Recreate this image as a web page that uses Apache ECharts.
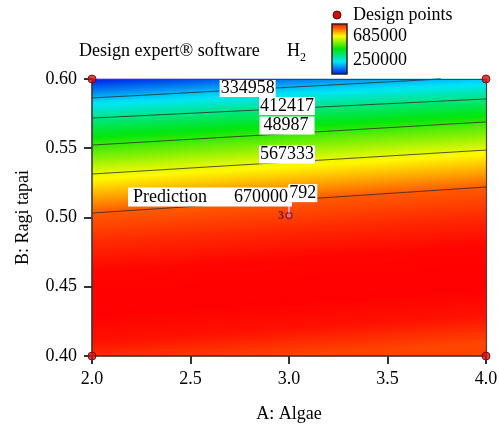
<!DOCTYPE html>
<html><head><meta charset="utf-8">
<script src="https://cdn.jsdelivr.net/npm/echarts@6/dist/echarts.min.js"></script>
<style>html,body{margin:0;padding:0;background:#fff}#c{width:499px;height:425px}</style>
</head><body><div id="c"></div>
<script>
// ---- data ----
const xTicks = [2.0, 2.5, 3.0, 3.5, 4.0];
const yTicks = [0.40, 0.45, 0.50, 0.55, 0.60];
const contourLevels = [334958, 412417, 489875, 567333, 645792];
const contourText = ['334958', '412417', '48987', '567333', '792'];   // as visible in the picture
const contourA = [[2.0, 3.77], [2.0, 4.0], [2.0, 4.0], [2.0, 4.0], [2.0, 4.0]];
const contourB = [[0.5863, 0.600], [0.5718, 0.5856], [0.5523, 0.5690], [0.5314, 0.5487], [0.5032, 0.5220]];
const labelA = [2.79, 2.99, 2.99, 2.99, 3.07];
const labelB = [0.5942, 0.5812, 0.5672, 0.5462, 0.5183];
const cornerValue = 255000;                       // response at A=2.0, B=0.60
const lowerB = [0.49, 0.47, 0.44, 0.42, 0.40];    // section at A=3 below the last contour
const lowerV = [668000, 683000, 685000, 678000, 655000];
const designA = [2.0, 4.0, 2.0, 4.0, 3.0];
const designB = [0.60, 0.60, 0.40, 0.40, 0.50];
const designReps = [1, 1, 1, 1, 3];
const predictionA = 3.0, predictionB = 0.50, predictionValue = 670000;
const scaleMin = 250000, scaleMax = 685000;

// ---- styling helpers ----
const FONT = '"Liberation Serif", "Times New Roman", serif';
const paletteT = [0, 0.25, 0.5, 0.75, 1];
const paletteRGB = [[0,20,230],[0,230,250],[0,230,10],[255,250,0],[255,0,0]];
function colorOf(v){
  let t = (v - scaleMin) / (scaleMax - scaleMin); t = Math.max(0, Math.min(1, t));
  let j = 0; while (j < paletteT.length - 2 && t > paletteT[j+1]) j++;
  const f = (t - paletteT[j]) / (paletteT[j+1] - paletteT[j]);
  const c = paletteRGB[j].map((x, m) => Math.round(x + f * (paletteRGB[j+1][m] - x)));
  return 'rgb(' + c.join(',') + ')';
}
const xMin = xTicks[0], xMax = xTicks[xTicks.length-1], yMin = yTicks[0], yMax = yTicks[yTicks.length-1];
const midA = (xMin + xMax) / 2;
const nL = contourLevels.length;
function linePts(k){ return contourA[k].map((a, m) => [a, contourB[k][m]]); }
function lineAt(k, a){ const A = contourA[k], B = contourB[k]; return B[0] + (a - A[0]) / (A[1] - A[0]) * (B[1] - B[0]); }
function unit(p, q){ const dx = q[0]-p[0], dy = q[1]-p[1], l = Math.hypot(dx, dy); return [dx/l, dy/l]; }
function dot(p, q, n){ return (q[0]-p[0]) * n[0] + (q[1]-p[1]) * n[1]; }
function makeGradient(P0, n, samples){
  const Lmax = samples[samples.length-1][0];
  const stops = [];
  for (let s = 0; s < samples.length - 1; s++){
    const d0 = samples[s][0], v0 = samples[s][1], d1 = samples[s+1][0], v1 = samples[s+1][1];
    for (let m = 0; m < 8; m++){
      const f = m / 8;
      stops.push({offset: Math.max(0, Math.min(1, (d0 + f*(d1-d0)) / Lmax)), color: colorOf(v0 + f*(v1-v0))});
    }
  }
  stops.push({offset: 1, color: colorOf(samples[samples.length-1][1])});
  return new echarts.graphic.LinearGradient(P0[0], P0[1], P0[0] + n[0]*Lmax, P0[1] + n[1]*Lmax, stops, true);
}

function renderBand(params, api){
  const i = api.value(0);
  const c = p => api.coord(p);
  let upper, lower, grad;
  if (i === 0){
    upper = [[xMin, yMax], [contourA[0][1], yMax]];
    lower = linePts(0);
    const P0 = c(lower[0]); const d = unit(P0, c(lower[1])); const n = [d[1], -d[0]];
    grad = makeGradient(P0, n, [[0, contourLevels[0]], [dot(P0, c([xMin, yMax]), n), cornerValue]]);
  } else if (i < nL){
    upper = linePts(i-1); if (contourA[i-1][1] < xMax) upper.push([xMax, yMax]);
    lower = linePts(i);
    const P0 = c([midA, lineAt(i-1, midA)]), P1 = c([midA, lineAt(i, midA)]);
    const d1 = unit(c(linePts(i-1)[0]), c(linePts(i-1)[1])), d2 = unit(c(lower[0]), c(lower[1]));
    const d = unit([0,0], [d1[0]+d2[0], d1[1]+d2[1]]); const n = [-d[1], d[0]];
    grad = makeGradient(P0, n, [[0, contourLevels[i-1]], [dot(P0, P1, n), contourLevels[i]]]);
  } else {
    upper = linePts(nL-1);
    lower = [[xMin, yMin], [xMax, yMin]];
    const P0 = c([midA, lineAt(nL-1, midA)]);
    const d = unit(c(upper[0]), c(upper[1])); const n = [-d[1], d[0]];
    const samples = [[0, contourLevels[nL-1]]];
    lowerB.forEach((b, m) => samples.push([dot(P0, c([midA, b]), n), lowerV[m]]));
    grad = makeGradient(P0, n, samples);
  }
  const pts = upper.map(c).concat(lower.slice().reverse().map(c));
  return {type: 'polygon', shape: {points: pts}, style: {fill: grad, stroke: grad, lineWidth: 0.6}};
}
function renderContour(params, api){
  const k = api.value(0);
  return {type: 'polyline', shape: {points: linePts(k).map(p => api.coord(p))},
          style: {stroke: 'rgba(35,35,35,0.75)', lineWidth: 1, fill: null}};
}
function txt(s, x, y, size, align, valign, extra){
  return {type: 'text', style: Object.assign({text: s, x: x, y: y, font: size + 'px ' + FONT, fill: '#000',
    align: align, verticalAlign: valign, textAlign: align, textVerticalAlign: valign}, extra || {})};
}
function renderLabel(params, api){
  const k = api.value(0);
  const p = api.coord([labelA[k], labelB[k]]);
  return txt(contourText[k], p[0], p[1] + 1, 18, 'center', 'middle',
    {backgroundColor: '#fff', padding: contourText[k].length === 5 ? [0, 6, 0, 4] : [0, 1, 0, 1]});
}
function renderCenter(params, api){
  const p = api.coord([api.value(0), api.value(1)]);
  const reps = api.value(2);
  return {type: 'group', children: [
    {type: 'circle', shape: {cx: p[0], cy: p[1] - 2, r: 3}, style: {fill: 'rgba(240,150,170,0.5)', stroke: '#8a2040', lineWidth: 1.4}},
    txt(String(reps), p[0] - 5, p[1] - 1.5, 12, 'right', 'middle', {fill: '#701820', font: 'bold 12px ' + FONT})
  ]};
}
function renderPrediction(params, api){
  const p = api.coord([api.value(0), api.value(1)]);
  return {type: 'group', children: [
    {type: 'line', shape: {x1: p[0], y1: p[1] - 14, x2: p[0], y2: p[1] - 5}, style: {stroke: '#e0a0c8', lineWidth: 2}},
    {type: 'text', z2: 10, style: {text: '{a|Prediction}{b|' + api.value(2) + '}', x: p[0] + 3, y: p[1] - 11,
      align: 'right', verticalAlign: 'bottom', textAlign: 'right', textVerticalAlign: 'bottom',
      font: '18px ' + FONT, fill: '#000', backgroundColor: '#fff', padding: [1, 4, 0, 5],
      rich: {a: {width: 101, align: 'left', font: '18px ' + FONT, fill: '#000'}, b: {align: 'left', font: '18px ' + FONT, fill: '#000'}}}}
  ]};
}

const corners = [], centers = [];
designA.forEach((a, i) => { if (designReps[i] > 1) centers.push([a, designB[i], designReps[i]]); else corners.push([a, designB[i]]); });

const axisCommon = {
  type: 'value', splitLine: {show: false}, z: 10,
  axisLine: {show: true, onZero: false, lineStyle: {color: '#333', width: 1.5}},
  axisTick: {show: true, length: 8, lineStyle: {color: '#333', width: 2}},
  axisLabel: {color: '#000', fontFamily: FONT, fontSize: 18},
  nameLocation: 'middle', nameTextStyle: {color: '#000', fontFamily: FONT, fontSize: 18}
};
const frame = {type: 'value', z: 10, splitLine: {show: false}, axisTick: {show: false}, axisLabel: {show: false},
  axisLine: {show: true, onZero: false, lineStyle: {color: '#444', width: 1.2}}};

const chart = echarts.init(document.getElementById('c'), null, {renderer: 'canvas'});
chart.setOption({
  animation: false,
  grid: {left: 92, right: 13, top: 79, bottom: 69, containLabel: false, outerBoundsMode: 'none'},
  xAxis: [
    Object.assign({}, axisCommon, {min: xMin, max: xMax, interval: 0.5, position: 'bottom', name: 'A: Algae', nameGap: 49,
      axisLabel: Object.assign({}, axisCommon.axisLabel, {margin: 14, formatter: v => v.toFixed(1)})}),
    Object.assign({}, frame, {min: xMin, max: xMax, position: 'top'})
  ],
  yAxis: [
    Object.assign({}, axisCommon, {min: yMin, max: yMax, interval: 0.05, position: 'left', name: 'B: Ragi tapai', nameGap: 60,
      axisLabel: Object.assign({}, axisCommon.axisLabel, {margin: 15, formatter: v => v.toFixed(2)})}),
    Object.assign({}, frame, {min: yMin, max: yMax, position: 'right'})
  ],
  series: [
    {type: 'custom', name: 'bands', silent: true, z: 1, renderItem: renderBand, data: Array.from({length: nL + 1}, (_, i) => [i, yMin])},
    {type: 'custom', name: 'contours', silent: true, z: 2, renderItem: renderContour, data: contourLevels.map((v, k) => [k, yMin])},
    {type: 'custom', name: 'labels', silent: true, z: 3, renderItem: renderLabel, data: contourLevels.map((v, k) => [k, yMin])},
    {type: 'custom', name: 'center', silent: true, z: 4, renderItem: renderCenter, data: centers},
    {type: 'custom', name: 'prediction', silent: true, z: 5, renderItem: renderPrediction, data: [[predictionA, predictionB, predictionValue]]},
    {type: 'scatter', name: 'Design points', z: 20, symbolSize: 8, data: corners,
      itemStyle: {color: '#d81010', borderColor: '#6a0000', borderWidth: 1}}
  ],
  graphic: [
    {type: 'text', x: 79, y: 51, style: {text: 'Design expert\u00AE software', font: '18px ' + FONT, fill: '#000', verticalAlign: 'middle', textVerticalAlign: 'middle'}},
    {type: 'text', x: 287, y: 51, style: {text: 'H', font: '18px ' + FONT, fill: '#000', verticalAlign: 'middle', textVerticalAlign: 'middle'}},
    {type: 'text', x: 300, y: 58, style: {text: '2', font: '12px ' + FONT, fill: '#000', verticalAlign: 'middle', textVerticalAlign: 'middle'}},
    {type: 'circle', shape: {cx: 337, cy: 15, r: 4}, style: {fill: '#c81010', stroke: '#6a0000', lineWidth: 1}},
    {type: 'text', x: 353, y: 15, style: {text: 'Design points', font: '18px ' + FONT, fill: '#000', verticalAlign: 'middle', textVerticalAlign: 'middle'}},
    {type: 'rect', shape: {x: 332, y: 24, width: 15, height: 50},
      style: {stroke: '#222', lineWidth: 1.5,
        fill: new echarts.graphic.LinearGradient(0, 0, 0, 1, [0, 0.25, 0.5, 0.75, 1].map(o => ({offset: o, color: colorOf(scaleMax - o * (scaleMax - scaleMin))})))}},
    {type: 'text', x: 353, y: 36, style: {text: String(scaleMax), font: '18px ' + FONT, fill: '#000', verticalAlign: 'middle', textVerticalAlign: 'middle'}},
    {type: 'text', x: 353, y: 60, style: {text: String(scaleMin), font: '18px ' + FONT, fill: '#000', verticalAlign: 'middle', textVerticalAlign: 'middle'}}
  ]
});
</script></body></html>
